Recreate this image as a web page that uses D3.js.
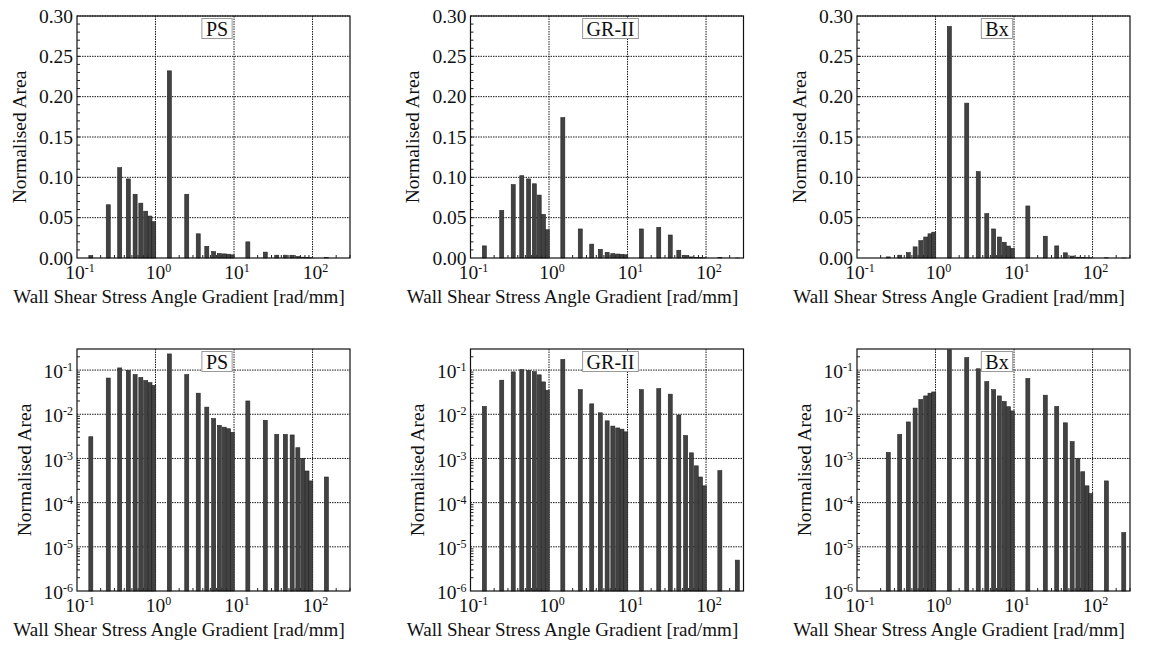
<!DOCTYPE html>
<html lang="en">
<head>
  <meta charset="UTF-8">
  <title>Wall Shear Stress Angle Gradient histograms</title>
  <style>
    body { margin: 0; background: #fff; }
    text { font-family: "Liberation Serif", "DejaVu Serif", serif; fill: #111; }
  </style>
</head>
<body>
  <div id="chart"></div>
  <script src="https://d3js.org/d3.v7.min.js"></script>
  <script>

    // bin centres [rad/mm]
    const binCenters = [0.15, 0.25, 0.35, 0.45, 0.55, 0.65, 0.75, 0.85, 0.95,
                        1.5, 2.5, 3.5, 4.5, 5.5, 6.5, 7.5, 8.5, 9.5,
                        15, 25, 35, 45, 55, 65, 75, 85, 95,
                        150, 250];

    // normalised area per bin (0 = empty bin)
    const psValues = [0.0031, 0.066, 0.112, 0.098, 0.079, 0.068, 0.058, 0.052, 0.045,
                      0.232, 0.079, 0.030, 0.0145, 0.0080, 0.0056, 0.0051, 0.0047, 0.0039,
                      0.020, 0.0073, 0.0035, 0.0035, 0.0034, 0.00175, 0.0010, 0.00052, 0.00031,
                      0.00038, 0];
    const grValues = [0.0150, 0.059, 0.091, 0.102, 0.098, 0.092, 0.078, 0.054, 0.035,
                      0.174, 0.036, 0.0172, 0.0108, 0.0071, 0.0054, 0.0049, 0.0046, 0.0040,
                      0.036, 0.038, 0.0285, 0.0096, 0.0033, 0.00134, 0.00068, 0.00038, 0.00024,
                      0.00053, 0.0000050];
    const bxValues = [0, 0.00137, 0.0035, 0.0067, 0.0138, 0.0215, 0.026, 0.030, 0.032,
                      0.287, 0.192, 0.107, 0.055, 0.036, 0.026, 0.0195, 0.0148, 0.0119,
                      0.0645, 0.027, 0.0150, 0.0064, 0.0024, 0.0010, 0.00050, 0.00024, 0.00016,
                      0.00031, 0.000021];

    const cases = ["PS", "GR-II", "Bx"];
    const caseValues = [psValues, grValues, bxValues];

    const linTicks = [0, 0.05, 0.10, 0.15, 0.20, 0.25, 0.30];
    const logTicks = [1e-6, 1e-5, 1e-4, 1e-3, 1e-2, 1e-1];
    const xTicks = [0.1, 1, 10, 100];

    const width = 1149, height = 645;
    const colX = [77, 470.5, 857], rowY = [16, 349];
    const plotW = 273, plotH = 242;

    const svg = d3.select("#chart")
      .append("svg")
      .attr("width", width)
      .attr("height", height);

    // superscript power-of-ten label
    function pow10(sel, v) {
      const e = Math.round(Math.log10(v));
      sel.text("10");
      sel.append("tspan")
        .attr("dy", -7)
        .style("font-size", "12px")
        .text(e);
    }

    rowY.forEach((top, row) => {
      colX.forEach((left, col) => {
        const g = svg.append("g").attr("transform", `translate(${left},${top})`);
        const values = caseValues[col];
        const isLog = row === 1;

        const x = d3.scaleLog([0.1, 300], [0, plotW]);
        const y = isLog
          ? d3.scaleLog([1e-6, 0.3], [plotH, 0])
          : d3.scaleLinear([0, 0.3], [plotH, 0]);

        // minor ticks
        const xMinor = [];
        [0.1, 1, 10, 100].forEach(d => { for (let k = 2; k <= 9; k++) if (d * k <= 300) xMinor.push(d * k); });
        g.append("g")
          .selectAll("line")
          .data(xMinor)
          .join("line")
          .attr("x1", d => x(d)).attr("x2", d => x(d))
          .attr("y1", plotH).attr("y2", plotH - 3)
          .attr("stroke", "#222");

        let yMinor = [];
        if (isLog) {
          logTicks.forEach(d => { for (let k = 2; k <= 9; k++) if (d * k <= 0.3) yMinor.push(d * k); });
        } else {
          yMinor = d3.range(0.01, 0.3, 0.01);
        }
        g.append("g")
          .selectAll("line")
          .data(yMinor)
          .join("line")
          .attr("x1", 0).attr("x2", 3)
          .attr("y1", d => y(d)).attr("y2", d => y(d))
          .attr("stroke", "#222");

        // dotted grid
        const yTicks = isLog ? logTicks : linTicks;
        g.append("g")
          .selectAll("line")
          .data(yTicks.slice(1))
          .join("line")
          .attr("x1", 0).attr("x2", plotW)
          .attr("y1", d => y(d)).attr("y2", d => y(d))
          .attr("stroke", "#1a1a1a")
          .attr("stroke-dasharray", "1.5,1");
        g.append("g")
          .selectAll("line")
          .data(xTicks.slice(1))
          .join("line")
          .attr("x1", d => x(d)).attr("x2", d => x(d))
          .attr("y1", 0).attr("y2", plotH)
          .attr("stroke", "#1a1a1a")
          .attr("stroke-dasharray", "1.5,1");

        // bars
        const bars = binCenters.map((c, i) => ({c, v: values[i]})).filter(d => d.v > 0);
        const base = isLog ? 1e-6 : 0;
        g.append("g")
          .selectAll("rect")
          .data(bars)
          .join("rect")
          .attr("x", d => x(d.c) - 2)
          .attr("y", d => y(d.v))
          .attr("width", 4)
          .attr("height", d => y(base) - y(d.v))
          .attr("fill", "#424242")
          .attr("stroke", "#222")
          .attr("stroke-width", 0.6);

        // frame
        g.append("rect")
          .attr("width", plotW).attr("height", plotH)
          .attr("fill", "none")
          .attr("stroke", "#111")
          .attr("stroke-width", 1.2);

        // y tick labels
        const yl = g.append("g")
          .selectAll("text")
          .data(yTicks)
          .join("text")
          .attr("x", -4)
          .attr("y", d => y(d))
          .attr("dy", isLog ? "0.42em" : "0.35em")
          .attr("text-anchor", "end")
          .style("font-size", "19.5px");
        if (isLog) yl.each(function(d) { pow10(d3.select(this), d); });
        else yl.text(d3.format(".2f"));

        // x tick labels
        g.append("g")
          .selectAll("text")
          .data(xTicks)
          .join("text")
          .attr("x", d => x(d) + 3)
          .attr("y", plotH + 21)
          .attr("text-anchor", "middle")
          .style("font-size", "19.5px")
          .each(function(d) { pow10(d3.select(this), d); });

        // axis titles
        g.append("text")
          .attr("x", 102)
          .attr("y", plotH + 45)
          .attr("text-anchor", "middle")
          .style("font-size", "19px")
          .text("Wall Shear Stress Angle Gradient [rad/mm]");

        g.append("text")
          .attr("transform", `translate(${isLog ? -53 : -58},${plotH / 2}) rotate(-90)`)
          .attr("text-anchor", "middle")
          .attr("dy", "0.35em")
          .style("font-size", "19.5px")
          .text("Normalised Area");

        // case label box
        const lg = g.append("g");
        const box = lg.append("rect");
        const lab = lg.append("text")
          .attr("x", 140)
          .attr("y", 12.5)
          .attr("dy", "0.35em")
          .attr("text-anchor", "middle")
          .style("font-size", "20px")
          .text(cases[col]);
        const bb = lab.node().getBBox();
        box.attr("x", bb.x - 4).attr("y", 2.5)
          .attr("width", bb.width + 8).attr("height", 20)
          .attr("fill", "#fff")
          .attr("stroke", "#999");
      });
    });

  </script>
</body>
</html>
